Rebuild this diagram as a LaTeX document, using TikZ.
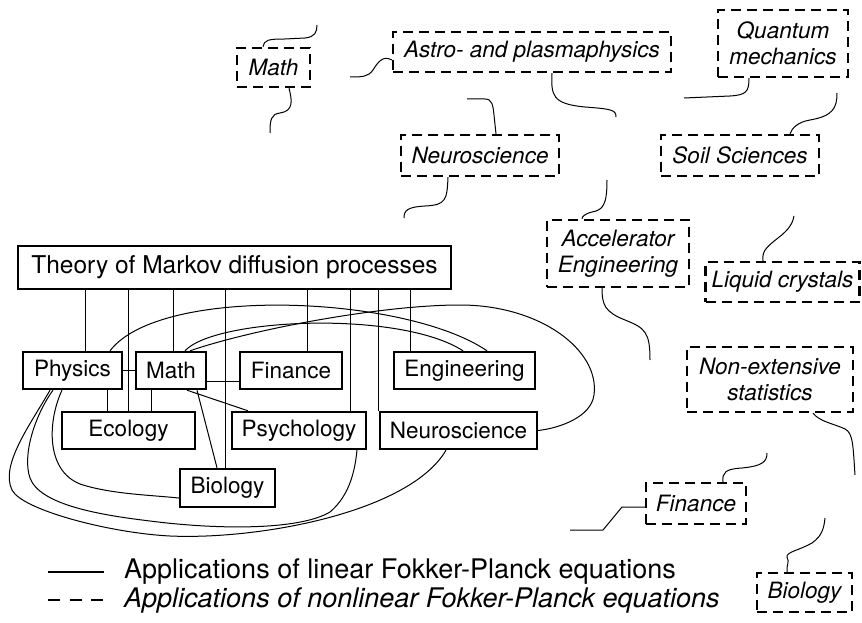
\documentclass[tikz,border=0pt]{standalone}
\usepackage{fontspec}
\setmainfont{TeX Gyre Heros}
\usepackage{tikz}
\usetikzlibrary{arrows.meta}

\tikzset{
  linbox/.style={draw, line width=2.4pt, inner sep=0pt, minimum height=37pt,
    font=\fontsize{22.5}{26}\selectfont},
  nlinbox/.style={draw, line width=2.4pt, dash pattern=on 10pt off 6pt, inner sep=0pt,
    align=center, font=\fontsize{22.5}{25.5}\selectfont\itshape},
  link/.style={line width=1pt},
  legtext/.style={anchor=west, inner sep=0pt, font=\fontsize{27}{30}\selectfont},
}

\begin{document}
\begin{tikzpicture}[x=1pt, y=-1pt]
    \useasboundingbox (0,0) rectangle (862,623);

    % --- Markov tree (linear FPE) ---
    \node[linbox, minimum width=433pt, minimum height=43pt, font=\fontsize{24.5}{28}\selectfont] (theory) at (234.5,267.5) {Theory of Markov diffusion processes};
    \node[linbox, minimum width=99pt]  (physics)     at (72.5,370.5)  {Physics};
    \node[linbox, minimum width=70pt]  (mathL)       at (171,370.5)   {Math};
    \node[linbox, minimum width=102pt] (financeL)    at (291,370.5)   {Finance};
    \node[linbox, minimum width=141pt] (engineering) at (464.5,370.5) {Engineering};
    \node[linbox, minimum width=133pt] (ecology)     at (128.5,430.5) {Ecology};
    \node[linbox, minimum width=134pt] (psychology)  at (299,430.5)   {Psychology};
    \node[linbox, minimum width=157pt] (neuroL)      at (458.5,430.5) {Neuroscience};
    \node[linbox, minimum width=95pt, minimum height=38pt] (biologyL) at (227.5,488) {Biology};

    % --- Verticals from the theory box ---
    \draw[link] ([xshift=12.5pt]physics.north) -- ([xshift=12.5pt]physics.north |- theory.south);
    \draw[link] (ecology.north) -- (ecology.north |- theory.south);
    \draw[link] ([xshift=2pt]mathL.north) -- ([xshift=2pt]mathL.north |- theory.south);
    \draw[link] ([xshift=-2.5pt]biologyL.north) -- ([xshift=-2.5pt]biologyL.north |- theory.south);
    \draw[link] ([xshift=16pt]financeL.north) -- ([xshift=16pt]financeL.north |- theory.south);
    \draw[link] ([xshift=51pt]psychology.north) -- ([xshift=51pt]psychology.north |- theory.south);
    \draw[link] (neuroL.north west) -- (neuroL.north west |- theory.south);
    \draw[link] ([xshift=-54.5pt]engineering.north) -- ([xshift=-54.5pt]engineering.north |- theory.south);

    % --- Short links ---
    \draw[link] (physics.east) -- (mathL.west);
    \draw[link] ([yshift=-10.5pt]mathL.east) -- ([yshift=-10.5pt]financeL.west);
    \draw[link] ([xshift=34.5pt]physics.south) -- ([xshift=34.5pt]physics.south |- ecology.north);
    \draw[link] ([xshift=-20pt]mathL.south) -- ([xshift=-20pt]mathL.south |- ecology.north);
    \draw[link] ([xshift=16pt]mathL.south) -- ([xshift=-51pt]psychology.north);
    \draw[link] ([xshift=26pt]mathL.south) -- ([xshift=-10.5pt]biologyL.north);

    % --- Curved links ---
    \draw[link] ([xshift=37.5pt]physics.north) .. controls (160,285) and (405,295) .. ([xshift=22.5pt]engineering.north);
    \draw[link] ([xshift=14pt]mathL.north) .. controls (215,318) and (400,310) .. ([xshift=-1.5pt]engineering.north);
    \draw[link] ([xshift=19pt]mathL.north) .. controls (250,330) and (380,305) .. (460,305)
      .. controls (540,305) and (600,350) .. (594,395)
      .. controls (591,417) and (560,428) .. (neuroL.east);
    \draw[link] ([xshift=-10.5pt]physics.south) .. controls (48,420) and (45,470) .. (80,484)
      .. controls (110,494) and (150,495) .. ([yshift=-10pt]biologyL.west);
    \draw[link] ([xshift=-22.5pt]physics.south) .. controls (30,425) and (0,465) .. (12,490)
      .. controls (22,510) and (110,533) .. (170,536)
      .. controls (260,540) and (410,512) .. ([xshift=-12.5pt]neuroL.south);
    \draw[link] ([xshift=-19.5pt]physics.south) .. controls (35,415) and (22,455) .. (30,478)
      .. controls (40,505) and (100,515) .. (150,521)
      .. controls (220,530) and (300,530) .. (330,512)
      .. controls (350,495) and (355,470) .. ([xshift=58pt]psychology.south);

    % --- Nonlinear FPE applications ---
    \node[nlinbox, minimum width=73pt,  minimum height=39pt] (mathN)    at (273.5,67.5)  {Math};
    \node[nlinbox, minimum width=278pt, minimum height=40pt] (astro)    at (532,52)      {Astro- and plasmaphysics};
    \node[nlinbox, minimum width=130pt, minimum height=67pt] (quantum)  at (783,43.5)    {Quantum\\mechanics};
    \node[nlinbox, minimum width=158pt, minimum height=41pt] (neuroN)   at (480,155.5)   {Neuroscience};
    \node[nlinbox, minimum width=158pt, minimum height=41pt] (soil)     at (740,155.5)   {Soil Sciences};
    \node[nlinbox, minimum width=142pt, minimum height=67pt] (accel)    at (618,253.5)   {Accelerator\\Engineering};
    \node[nlinbox, minimum width=154pt, minimum height=40pt] (liquid)   at (782.5,282)   {Liquid crystals};
    \node[nlinbox, minimum width=166pt, minimum height=65pt] (nonext)   at (770,379.5)   {Non-extensive\\statistics};
    \node[nlinbox, minimum width=100pt, minimum height=41pt] (financeN) at (696,503.5)   {Finance};
    \node[nlinbox, minimum width=95pt,  minimum height=39pt] (biologyN) at (804.5,592.5) {Biology};

    % --- Open ends ---
    \coordinate (mathNup)    at (317,25);
    \coordinate (mathNdown)  at (270,133);
    \coordinate (astroleft)  at (350,77);
    \coordinate (astrodown)  at (616,117);
    \coordinate (neuroNup)   at (467,99);
    \coordinate (neuroNdown) at (404,218);
    \coordinate (quantumend) at (684,98);
    \coordinate (soilup)     at (837,93);
    \coordinate (accelup)    at (607,180);
    \coordinate (acceldown)  at (650,360);
    \coordinate (liquidup)   at (794,216);
    \coordinate (nonextdown) at (855,475);
    \coordinate (financeup)  at (767,453);
    \coordinate (financeleft) at (570,530);
    \coordinate (biologyup)  at (825,518);

    % --- Squiggles ---
    \draw[link] ([xshift=-10.5pt]mathN.north) .. controls (264,40) and (268,39) .. (285,39)
      -- (305,38) .. controls (315,37) and (317,32) .. (mathNup);
    \draw[link] ([xshift=15.5pt]mathN.south) .. controls (292,100) and (294,111) .. (280,113)
      .. controls (271,114) and (270,120) .. (mathNdown);
    \draw[link] ([yshift=-8pt]astro.west) .. controls (383,55) and (378,62) .. (373,70)
      .. controls (368,77) and (362,77) .. (astroleft);
    \draw[link] ([xshift=20pt]astro.south) .. controls (551,95) and (552,104) .. (585,107)
      .. controls (612,109) and (616,110) .. (astrodown);
    \draw[link] (neuroNup) -- (485,99) .. controls (492,99) and (493,105) .. (494,115)
      -- ([xshift=16pt]neuroN.north);
    \draw[link] ([xshift=-32pt]neuroN.south) .. controls (447,200) and (446,205) .. (425,206)
      .. controls (408,207) and (404,210) .. (neuroNdown);
    \draw[link] ([xshift=-34pt]quantum.south) .. controls (749,92) and (746,95) .. (730,96)
      -- (quantumend);
    \draw[link] (soilup) .. controls (837,108) and (833,116) .. (810,120)
      .. controls (798,122) and (792,128) .. ([xshift=50pt]soil.north);
    \draw[link] (accelup) .. controls (607,205) and (603,210) .. (592,212)
      .. controls (584,214) and (582,217) .. ([xshift=-36pt]accel.north);
    \draw[link] ([xshift=-16pt]accel.south) .. controls (602,305) and (605,312) .. (625,320)
      .. controls (645,328) and (650,332) .. (acceldown);
    \draw[link] ([xshift=-19.5pt]liquid.north) .. controls (762,252) and (765,248) .. (778,238)
      .. controls (790,229) and (793,222) .. (liquidup);
    \draw[link] ([xshift=43pt]nonext.south) .. controls (820,422) and (835,424) .. (845,429)
      .. controls (853,433) and (853,445) .. (nonextdown);
    \draw[link] ([xshift=27pt]financeN.north) .. controls (722,472) and (726,469) .. (742,468)
      .. controls (762,466) and (767,462) .. (financeup);
    \draw[link] ([yshift=-3.5pt]financeN.west) -- (622,507) -- (603,530) -- (financeleft);
    \draw[link] ([xshift=-17.5pt]biologyN.north) .. controls (786,566) and (790,562) .. (787,557)
      .. controls (786,552) and (800,550) .. (812,543)
      .. controls (822,536) and (824,528) .. (biologyup);

    % --- Legend ---
    \node[legtext] (leglin)  at (124,572) {Applications of linear Fokker-Planck equations};
    \node[legtext, font=\fontsize{27}{30}\selectfont\itshape] (legnlin) at (124,600) {Applications of nonlinear Fokker-Planck equations};
    \coordinate (leglinA)  at (48,572);
    \coordinate (legnlinA) at (48,600);
    \draw[line width=2pt] (leglinA) -- ([xshift=-20pt]leglin.west);
    \draw[line width=2pt, dash pattern=on 12pt off 9.5pt] (legnlinA) -- ([xshift=-20pt]legnlin.west);

\end{tikzpicture}
\end{document}
